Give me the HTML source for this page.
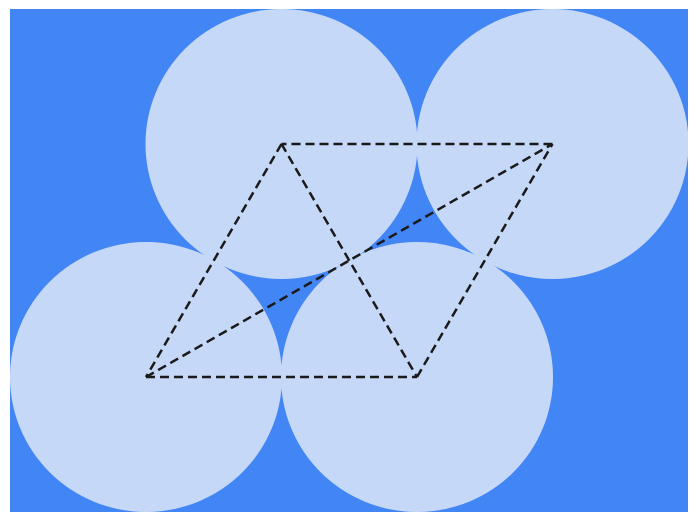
<!DOCTYPE html>
<html>
<head>
<meta charset="utf-8">
<style>
html,body{margin:0;padding:0;background:#ffffff;}
svg{display:block;}
</style>
</head>
<body>
<svg id="chart" width="698" height="522" viewBox="0 0 698 522" xmlns="http://www.w3.org/2000/svg">
  <defs>
    <clipPath id="plotClip"><rect x="10" y="9" width="678" height="503"/></clipPath>
  </defs>
  <rect x="10" y="9" width="678" height="503" fill="#4285F4"/>
  <g id="circles" clip-path="url(#plotClip)"></g>
  <g id="lines"></g>
</svg>
<script>
// data: circle centers in unit coordinates (lattice)
const centerX = [1, 2, 0.5, 1.5];
const centerY = [1, 1, 0, 0];
const circleNames = ['circle-top-left', 'circle-top-right', 'circle-bottom-left', 'circle-bottom-right'];
// dashed segments as index pairs into centers
const segFrom = [2, 3, 1, 0, 2, 0];
const segTo = [3, 1, 0, 2, 1, 3];

const NS = 'http://www.w3.org/2000/svg';
function sx(v){ return 146 + (v - 0.5) * 271; }
function sy(v){ return 377 - v * 233; }
const cg = document.getElementById('circles');
for (let i = 0; i < centerX.length; i++) {
  const e = document.createElementNS(NS, 'ellipse');
  e.setAttribute('cx', sx(centerX[i]));
  e.setAttribute('cy', sy(centerY[i]));
  e.setAttribute('rx', 136);
  e.setAttribute('ry', 135);
  e.setAttribute('fill', '#C6D8F7');
  
  
  cg.appendChild(e);
}
const lg = document.getElementById('lines');
for (let i = 0; i < segFrom.length; i++) {
  const l = document.createElementNS(NS, 'line');
  l.setAttribute('x1', sx(centerX[segFrom[i]]));
  l.setAttribute('y1', sy(centerY[segFrom[i]]));
  l.setAttribute('x2', sx(centerX[segTo[i]]));
  l.setAttribute('y2', sy(centerY[segTo[i]]));
  l.setAttribute('stroke', '#1a1a1a');
  l.setAttribute('stroke-width', '2.5');
  l.setAttribute('stroke-dasharray', '9,5');
  
  
  lg.appendChild(l);
}
</script>
</body>
</html>
